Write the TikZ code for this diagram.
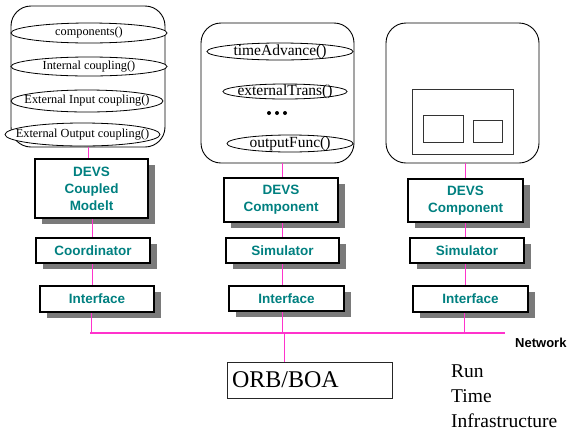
\documentclass[tikz,border=0pt]{standalone}
\usepackage{fontspec}
\setmainfont{Liberation Serif}
\newfontfamily\arialfont{Liberation Sans}
\usetikzlibrary{shapes.geometric,shadows}
\definecolor{devsteal}{RGB}{0,128,128}
\definecolor{netmag}{RGB}{255,51,204}
\definecolor{shadowgray}{RGB}{122,122,122}
\tikzset{
  devsbox/.style={draw=black, line width=1.5pt, fill=white, inner sep=0pt,
    font=\arialfont\bfseries\fontsize{13.5}{17}\selectfont, text=devsteal, align=center,
    drop shadow={shadow xshift=6.5pt, shadow yshift=-6pt, fill=shadowgray, opacity=1}},
  container/.style={draw=black, line width=0.9pt, rounded corners=20pt},
  opell/.style={draw=black, ellipse, line width=0.8pt, fill=white, inner sep=0pt},
  smallop/.style={opell, label={[inner sep=0pt, font=\fontsize{12.3}{14}\selectfont]center:#1}},
  bigop/.style={opell, label={[inner sep=0pt, font=\fontsize{15.5}{18}\selectfont]center:#1}},
  link/.style={netmag, line width=0.9pt},
  netline/.style={netmag, line width=1.5pt},
  innerrect/.style={draw=black!80, line width=1pt},
  rtitext/.style={anchor=base west, inner sep=0pt, font=\fontsize{19.5}{25}\selectfont},
}
\begin{document}
\begin{tikzpicture}[x=1pt,y=-1pt]
\useasboundingbox (0,0) rectangle (576,432);

% containers
\draw[container] (11,6) rectangle (165,147);
\node (contL) [minimum width=154pt, minimum height=141pt, inner sep=0pt] at (88,76.5) {};
\draw[container] (201,23) rectangle (354,163);
\node (contM) [minimum width=153pt, minimum height=140pt, inner sep=0pt] at (282,93) {};
\draw[container] (386,23) rectangle (539,163);
\node (contR) [minimum width=153pt, minimum height=140pt, inner sep=0pt] at (465,93) {};

% left ellipses
\node[smallop={components()}, minimum width=156pt, minimum height=20pt] (comp) at (89,33) {};
\node[smallop={Internal coupling()}, minimum width=156pt, minimum height=19pt] (intc) at (89,66.5) {};
\node[smallop={External Input coupling()}, minimum width=152pt, minimum height=22pt] (extin) at (87,101) {};
\node[smallop={External Output coupling()}, minimum width=155pt, minimum height=23pt] (extout) at (82.5,134.5) {};

% middle ellipses
\node[bigop={timeAdvance()}, minimum width=146pt, minimum height=17pt] (ta) at (280,51.5) {};
\node[bigop={externalTrans()}, minimum width=124pt, minimum height=15pt] (et) at (285,91.5) {};
\node[bigop={outputFunc()}, minimum width=126pt, minimum height=17pt] (of) at (290,143.5) {};
\fill (269,113) circle (2pt) (277,113) circle (2pt) (285,113) circle (2pt);

% right inner rects
\draw[innerrect] (412,89) rectangle (513,154);
\draw[innerrect] (423,115) rectangle (463,142);
\draw[innerrect] (473,120) rectangle (502,142);

% DEVS boxes
\node[devsbox, minimum width=113pt, minimum height=59pt] (dcm) at (91.5,188.5) {DEVS\\Coupled\\Modelt};
\node[devsbox, minimum width=114pt, minimum height=25pt] (coord) at (93,250.5) {Coordinator};
\node[devsbox, minimum width=114pt, minimum height=26pt] (ifL) at (97,299) {Interface};

\node[devsbox, minimum width=114pt, minimum height=44pt] (dcM) at (281,200) {DEVS\\Component};
\node[devsbox, minimum width=113pt, minimum height=25pt] (simM) at (282.5,250.5) {Simulator};
\node[devsbox, minimum width=115pt, minimum height=25pt] (ifM) at (286.5,298.5) {Interface};

\node[devsbox, minimum width=115pt, minimum height=43pt] (dcR) at (465.5,200.5) {DEVS\\Component};
\node[devsbox, minimum width=114pt, minimum height=25pt] (simR) at (467,250.5) {Simulator};
\node[devsbox, minimum width=115pt, minimum height=26pt] (ifR) at (470.5,299) {Interface};

% ORB box
\node[draw=black!85, line width=0.9pt, minimum width=165pt, minimum height=36pt, text width=155pt,
      inner sep=5pt, align=left, font=\fontsize{24}{28}\selectfont] (orb) at (309.5,380) {ORB/BOA};

% network
\coordinate (netL) at (90,333);
\coordinate (netR) at (505,333);
\coordinate (colA) at (88,0);
\coordinate (colB) at (92,0);
\coordinate (colL) at (91,0);
\coordinate (colM) at (282,0);
\coordinate (colR) at (465,0);
\coordinate (colS) at (464,0);
\coordinate (colO) at (284,0);
\draw[netline] (netL) -- (netR);
\node[anchor=base west, font=\arialfont\bfseries\fontsize{13}{15}\selectfont, inner sep=0pt] (netlbl) at (515,347.5) {Network};

% connectors
\draw[link] (contL.south -| colA) -- (dcm.north -| colA);
\draw[link] (dcm.south -| colB) -- (coord.north -| colB);
\draw[link] (coord.south -| colB) -- (ifL.north -| colB);
\draw[link] (ifL.south -| colL) -- (netL -| colL);

\draw[link] (contM.south -| colM) -- (dcM.north -| colM);
\draw[link] (dcM.south -| colM) -- (simM.north -| colM);
\draw[link] (simM.south -| colM) -- (ifM.north -| colM);
\draw[link] (ifM.south -| colM) -- (netL -| colM);
\draw[link] (netL -| colO) -- (orb.north -| colO);

\draw[link] (contR.south -| colR) -- (dcR.north -| colR);
\draw[link] (dcR.south -| colR) -- (simR.north -| colR);
\draw[link] (simR.south -| colR) -- (ifR.north -| colR);
\draw[link] (ifR.south -| colS) -- (netR -| colS);

% RTI text
\node[rtitext] (rti1) at (451,377) {Run};
\node[rtitext] (rti2) at (451,402) {Time};
\node[rtitext] (rti3) at (451,427) {Infrastructure};
\end{tikzpicture}
\end{document}
